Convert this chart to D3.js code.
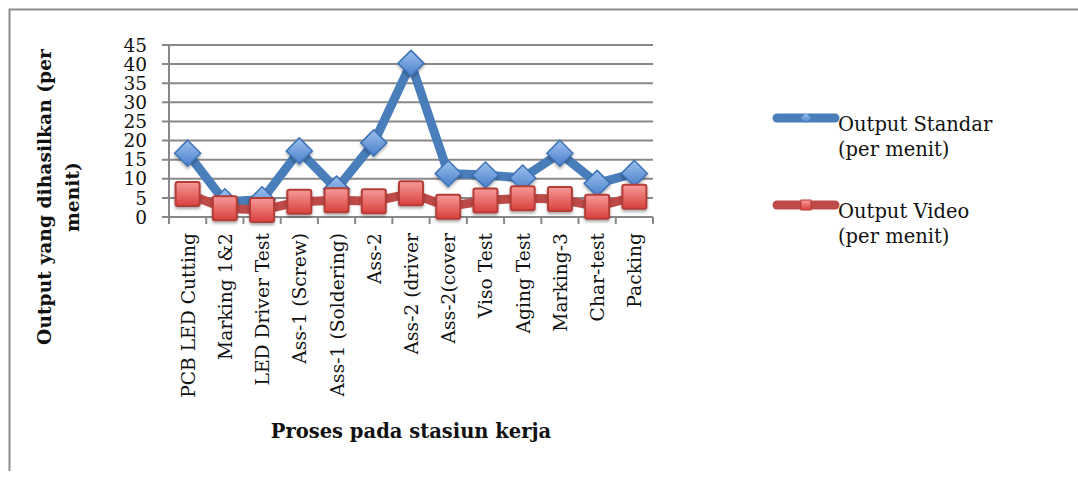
<!DOCTYPE html>
<html><head><meta charset="utf-8">
<script src="https://cdn.jsdelivr.net/npm/d3@7"></script>
<style>body{margin:0;background:#fff;}svg{display:block;}</style>
</head><body><svg id="c" width="1078" height="479"></svg>
<script>
const categories = ["PCB LED Cutting","Marking 1&2","LED Driver Test","Ass-1 (Screw)","Ass-1 (Soldering)","Ass-2","Ass-2 (driver","Ass-2(cover","Viso Test","Aging Test","Marking-3","Char-test","Packing"];
const outputStandar = [16.7, 4, 4.5, 17.3, 7.3, 19.4, 40.2, 11.4, 11, 10.2, 16.7, 8.8, 11.4];
const outputVideo = [6, 2.3, 1.8, 4, 4.4, 4.1, 6.2, 2.7, 4.3, 4.9, 4.7, 2.7, 5.3];
const yTicks = [0,5,10,15,20,25,30,35,40,45];
const seriesNames = [["Output Standar","(per menit)"],["Output Video","(per menit)"]];
const yTitle = ["Output yang dihasilkan (per","menit)"];
const xTitle = "Proses pada stasiun kerja";

const svg = d3.select("#c");
const font = "'DejaVu Serif',serif";
const L = 169, R = 653, T = 45, B = 217;
const x = d3.scaleBand().domain(categories).range([L, R]).padding(0);
const y = d3.scaleLinear().domain([0,45]).range([B, T]);

// frame
svg.append("path").attr("d","M9.5,471 L9.5,9.5 L1078,9.5").attr("fill","none").attr("stroke","#8c8c8c").attr("stroke-width",2);

const defs = svg.append("defs");
const gb = defs.append("linearGradient").attr("id","gb").attr("x1",0).attr("y1",0).attr("x2",0).attr("y2",1);
gb.append("stop").attr("offset","0").attr("stop-color","#9cc0ee");
gb.append("stop").attr("offset","1").attr("stop-color","#4a7fcb");
const gr = defs.append("linearGradient").attr("id","gr").attr("x1",0).attr("y1",0).attr("x2",0).attr("y2",1);
gr.append("stop").attr("offset","0").attr("stop-color","#f59b99");
gr.append("stop").attr("offset","1").attr("stop-color","#d9403c");
const f = defs.append("filter").attr("id","sh").attr("x","-50%").attr("y","-50%").attr("width","200%").attr("height","200%");
f.append("feDropShadow").attr("dx",0).attr("dy",2).attr("stdDeviation",1.5).attr("flood-color","#000").attr("flood-opacity",0.35);

// gridlines
svg.append("g").selectAll("line").data(yTicks).join("line")
  .attr("x1",L-7).attr("x2",R).attr("y1",d=>y(d)).attr("y2",d=>y(d))
  .attr("stroke","#888").attr("stroke-width",2);
// y axis line
svg.append("line").attr("x1",L).attr("x2",L).attr("y1",T).attr("y2",B+7).attr("stroke","#888").attr("stroke-width",2);
// x ticks
const bounds = categories.map(c=>x(c)).concat([R]);
svg.append("g").selectAll("line").data(bounds).join("line")
  .attr("x1",d=>d).attr("x2",d=>d).attr("y1",B).attr("y2",B+7).attr("stroke","#888").attr("stroke-width",2);

// y tick labels
svg.append("g").selectAll("text").data(yTicks).join("text")
  .attr("x",L-22).attr("y",d=>y(d)).attr("dy","0.36em").attr("text-anchor","end")
  .attr("font-family",font).attr("font-size",18.5).attr("fill","#111").text(d=>d);

// category labels
svg.append("g").selectAll("text").data(categories).join("text")
  .attr("transform",d=>`translate(${x(d)+x.bandwidth()/2+7},${B+16}) rotate(-90)`)
  .attr("text-anchor","end").attr("font-family",font).attr("font-size",18.7).attr("fill","#111").text(d=>d);

// titles
svg.append("text").attr("x",411).attr("y",438).attr("text-anchor","middle")
  .attr("font-family",font).attr("font-weight","bold").attr("font-size",19.5).attr("fill","#111").text(xTitle);
const yt = svg.append("text").attr("transform","translate(51,197) rotate(-90)").attr("text-anchor","middle")
  .attr("font-family",font).attr("font-weight","bold").attr("font-size",18.7).attr("fill","#111");
yt.selectAll("tspan").data(yTitle).join("tspan").attr("x",0).attr("dy",(d,i)=>i?"1.5em":0).text(d=>d);

const cx = d => x(d)+x.bandwidth()/2;
const line = d3.line().x((d,i)=>cx(categories[i])).y(d=>y(d));
// standar line
svg.append("path").datum(outputStandar).attr("d",line).attr("fill","none").attr("stroke","#4a7ebb").attr("stroke-width",9).attr("stroke-linejoin","round");
svg.append("g").selectAll("path").data(outputStandar).join("path")
  .attr("transform",(d,i)=>`translate(${cx(categories[i])},${y(d)})`)
  .attr("d","M0,-13 L13,0 L0,13 L-13,0 Z").attr("fill","url(#gb)").attr("stroke","#3f73b5").attr("stroke-width",1.5).attr("filter","url(#sh)");
// video line
svg.append("path").datum(outputVideo).attr("d",line).attr("fill","none").attr("stroke","#be4b48").attr("stroke-width",9).attr("stroke-linejoin","round");
svg.append("g").selectAll("rect").data(outputVideo).join("rect")
  .attr("x",(d,i)=>cx(categories[i])-12).attr("y",d=>y(d)-12).attr("width",24).attr("height",24).attr("rx",2)
  .attr("fill","url(#gr)").attr("stroke","#b43c38").attr("stroke-width",2).attr("filter","url(#sh)");

// legend
const leg = [{c:"#4a7ebb",y:118,t:seriesNames[0]},{c:"#be4b48",y:205,t:seriesNames[1]}];
leg.forEach((l,k)=>{
  svg.append("line").attr("x1",777).attr("x2",835).attr("y1",l.y).attr("y2",l.y).attr("stroke",l.c).attr("stroke-width",9).attr("stroke-linecap","round");
  if(k===0) svg.append("path").attr("transform",`translate(806,${l.y})`).attr("d","M0,-5 L5,0 L0,5 L-5,0 Z").attr("fill","url(#gb)");
  else svg.append("rect").attr("x",801).attr("y",l.y-5).attr("width",10).attr("height",10).attr("fill","url(#gr)").attr("stroke","#b43c38");
  const t = svg.append("text").attr("x",838).attr("y",l.y+13).attr("font-family",font).attr("font-size",19.5).attr("fill","#111");
  t.selectAll("tspan").data(l.t).join("tspan").attr("x",838).attr("dy",(d,i)=>i?"1.3em":0).text(d=>d);
});
</script></body></html>
